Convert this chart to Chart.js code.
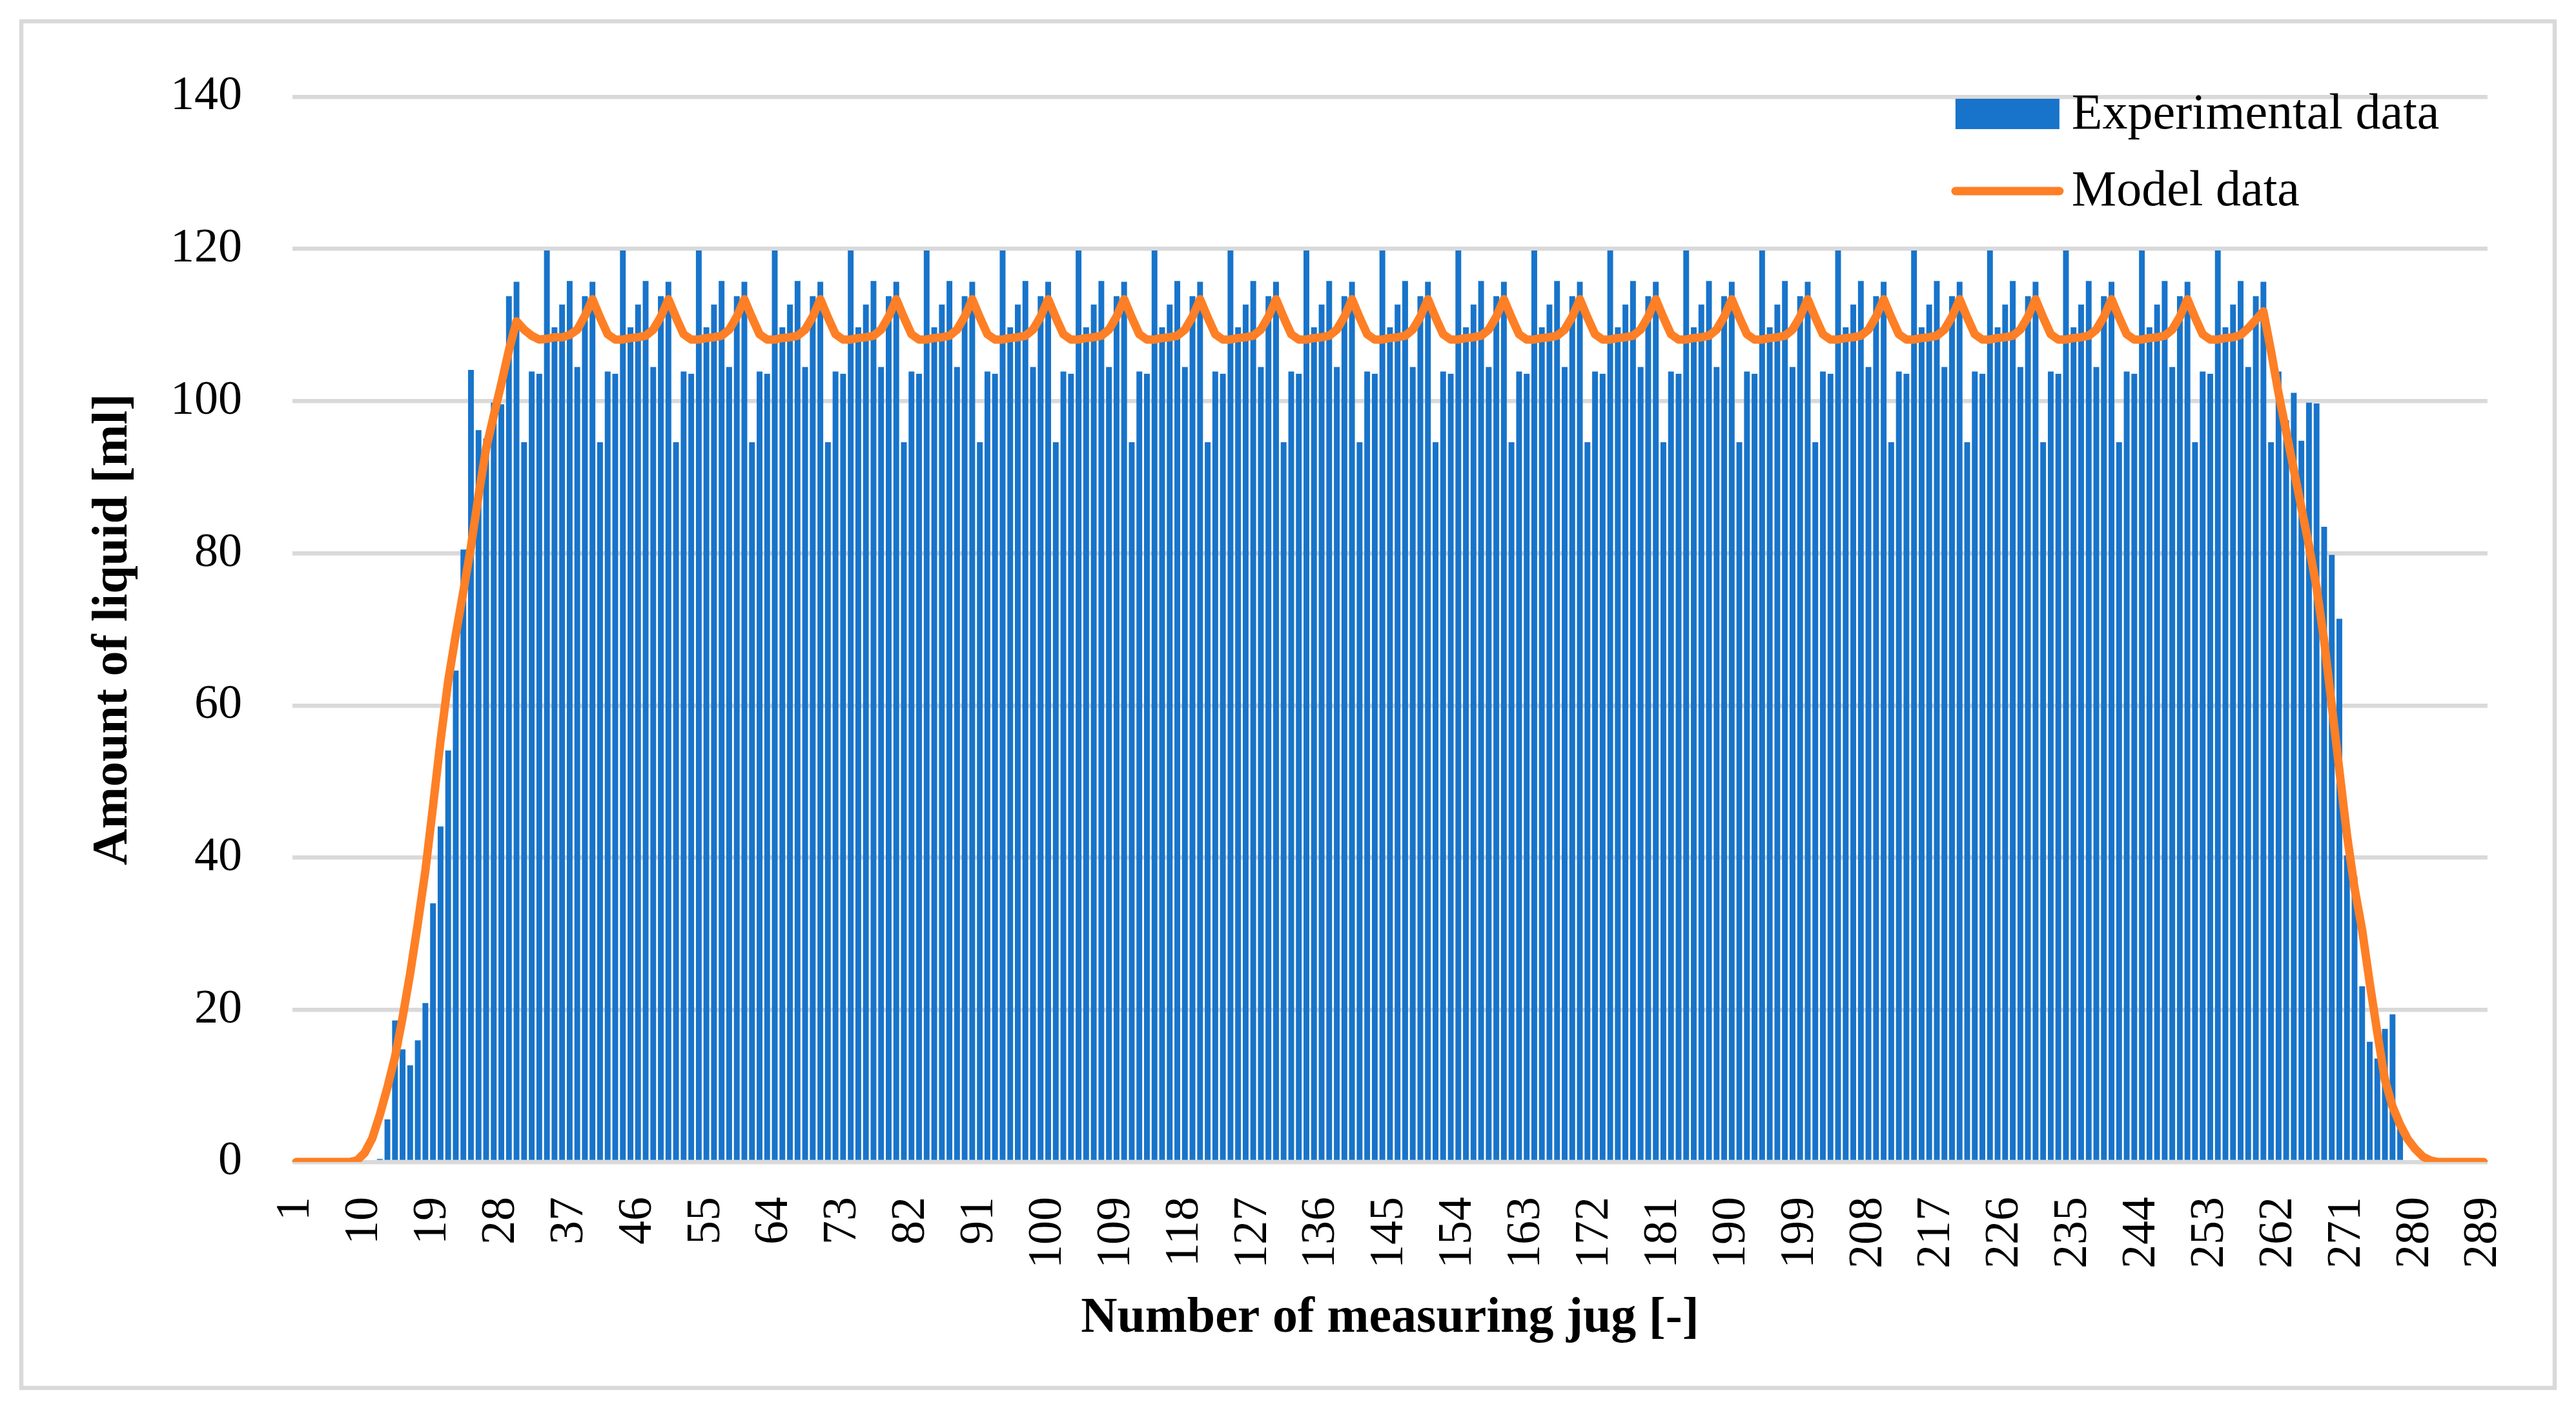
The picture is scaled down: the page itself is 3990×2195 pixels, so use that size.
<!DOCTYPE html>
<html lang="en">
<head>
<meta charset="UTF-8">
<title>Amount of liquid per measuring jug</title>
<script src="https://cdn.jsdelivr.net/npm/chart.js@4"></script>
<style>
  html, body { margin: 0; padding: 0; background: #fff; }
  canvas { display: block; }
</style>
</head>
<body>
<canvas id="graphique" width="3990" height="2195" style="width:3990px;height:2195px"></canvas>
<script>
// categories: measuring jug number 1..289
const jugs = Array.from({length: 289}, (_, i) => i + 1);

// labels shown on the x axis
const xTickLabels = [1, 10, 19, 28, 37, 46, 55, 64, 73, 82, 91, 100, 109, 118, 127, 136, 145,
  154, 163, 172, 181, 190, 199, 208, 217, 226, 235, 244, 253, 262, 271, 280, 289];

// Experimental data [ml], one row = 10 jugs (1-10, 11-20, ...)
const experimentalData = [
  0, 0, 0, 0, 0, 0, 0, 0, 0, 0,
  0, 0.4, 5.6, 18.6, 14.8, 12.7, 16.0, 20.9, 34.0, 44.1,
  54.1, 64.6, 80.5, 104.1, 96.2, 95.1, 99.8, 99.6, 113.8, 115.7,
  94.6, 103.9, 103.6, 119.8, 109.7, 112.7, 115.8, 104.5, 113.8, 115.7,
  94.6, 103.9, 103.6, 119.8, 109.7, 112.7, 115.8, 104.5, 113.8, 115.7,
  94.6, 103.9, 103.6, 119.8, 109.7, 112.7, 115.8, 104.5, 113.8, 115.7,
  94.6, 103.9, 103.6, 119.8, 109.7, 112.7, 115.8, 104.5, 113.8, 115.7,
  94.6, 103.9, 103.6, 119.8, 109.7, 112.7, 115.8, 104.5, 113.8, 115.7,
  94.6, 103.9, 103.6, 119.8, 109.7, 112.7, 115.8, 104.5, 113.8, 115.7,
  94.6, 103.9, 103.6, 119.8, 109.7, 112.7, 115.8, 104.5, 113.8, 115.7,
  94.6, 103.9, 103.6, 119.8, 109.7, 112.7, 115.8, 104.5, 113.8, 115.7,
  94.6, 103.9, 103.6, 119.8, 109.7, 112.7, 115.8, 104.5, 113.8, 115.7,
  94.6, 103.9, 103.6, 119.8, 109.7, 112.7, 115.8, 104.5, 113.8, 115.7,
  94.6, 103.9, 103.6, 119.8, 109.7, 112.7, 115.8, 104.5, 113.8, 115.7,
  94.6, 103.9, 103.6, 119.8, 109.7, 112.7, 115.8, 104.5, 113.8, 115.7,
  94.6, 103.9, 103.6, 119.8, 109.7, 112.7, 115.8, 104.5, 113.8, 115.7,
  94.6, 103.9, 103.6, 119.8, 109.7, 112.7, 115.8, 104.5, 113.8, 115.7,
  94.6, 103.9, 103.6, 119.8, 109.7, 112.7, 115.8, 104.5, 113.8, 115.7,
  94.6, 103.9, 103.6, 119.8, 109.7, 112.7, 115.8, 104.5, 113.8, 115.7,
  94.6, 103.9, 103.6, 119.8, 109.7, 112.7, 115.8, 104.5, 113.8, 115.7,
  94.6, 103.9, 103.6, 119.8, 109.7, 112.7, 115.8, 104.5, 113.8, 115.7,
  94.6, 103.9, 103.6, 119.8, 109.7, 112.7, 115.8, 104.5, 113.8, 115.7,
  94.6, 103.9, 103.6, 119.8, 109.7, 112.7, 115.8, 104.5, 113.8, 115.7,
  94.6, 103.9, 103.6, 119.8, 109.7, 112.7, 115.8, 104.5, 113.8, 115.7,
  94.6, 103.9, 103.6, 119.8, 109.7, 112.7, 115.8, 104.5, 113.8, 115.7,
  94.6, 103.9, 103.6, 119.8, 109.7, 112.7, 115.8, 104.5, 113.8, 115.7,
  94.6, 103.9, 97.5, 101.1, 94.8, 99.8, 99.7, 83.5, 79.8, 71.4,
  40.3, 37.5, 23.1, 15.8, 13.6, 17.5, 19.4, 5.2, 0, 0,
  0, 0, 0, 0, 0, 0, 0, 0, 0
];

// Model data [ml], same row layout
const modelData = [
  0, 0, 0, 0, 0, 0, 0, 0, 0.2, 1.2,
  3.1, 6.2, 9.8, 13.8, 19.0, 24.8, 31.3, 38.3, 46.7, 55.4,
  63.2, 69.3, 75.0, 80.9, 87.6, 93.8, 98.1, 102.3, 106.7, 110.5,
  109.4, 108.6, 108.1, 108.2, 108.4, 108.4, 108.7, 109.4, 111.2, 113.4,
  111.0, 108.8, 108.1, 108.1, 108.3, 108.4, 108.6, 109.4, 111.1, 113.4,
  111.0, 108.8, 108.1, 108.1, 108.3, 108.4, 108.6, 109.4, 111.1, 113.4,
  111.0, 108.8, 108.1, 108.1, 108.3, 108.4, 108.6, 109.4, 111.1, 113.4,
  111.0, 108.8, 108.1, 108.1, 108.3, 108.4, 108.6, 109.4, 111.1, 113.4,
  111.0, 108.8, 108.1, 108.1, 108.3, 108.4, 108.6, 109.4, 111.1, 113.4,
  111.0, 108.8, 108.1, 108.1, 108.3, 108.4, 108.6, 109.4, 111.1, 113.4,
  111.0, 108.8, 108.1, 108.1, 108.3, 108.4, 108.6, 109.4, 111.1, 113.4,
  111.0, 108.8, 108.1, 108.1, 108.3, 108.4, 108.6, 109.4, 111.1, 113.4,
  111.0, 108.8, 108.1, 108.1, 108.3, 108.4, 108.6, 109.4, 111.1, 113.4,
  111.0, 108.8, 108.1, 108.1, 108.3, 108.4, 108.6, 109.4, 111.1, 113.4,
  111.0, 108.8, 108.1, 108.1, 108.3, 108.4, 108.6, 109.4, 111.1, 113.4,
  111.0, 108.8, 108.1, 108.1, 108.3, 108.4, 108.6, 109.4, 111.1, 113.4,
  111.0, 108.8, 108.1, 108.1, 108.3, 108.4, 108.6, 109.4, 111.1, 113.4,
  111.0, 108.8, 108.1, 108.1, 108.3, 108.4, 108.6, 109.4, 111.1, 113.4,
  111.0, 108.8, 108.1, 108.1, 108.3, 108.4, 108.6, 109.4, 111.1, 113.4,
  111.0, 108.8, 108.1, 108.1, 108.3, 108.4, 108.6, 109.4, 111.1, 113.4,
  111.0, 108.8, 108.1, 108.1, 108.3, 108.4, 108.6, 109.4, 111.1, 113.4,
  111.0, 108.8, 108.1, 108.1, 108.3, 108.4, 108.6, 109.4, 111.1, 113.4,
  111.0, 108.8, 108.1, 108.1, 108.3, 108.4, 108.6, 109.4, 111.1, 113.4,
  111.0, 108.8, 108.1, 108.1, 108.3, 108.4, 108.6, 109.4, 111.1, 113.4,
  111.0, 108.8, 108.1, 108.1, 108.3, 108.4, 108.6, 109.4, 111.1, 113.4,
  111.0, 108.8, 108.1, 108.1, 108.3, 108.4, 108.7, 109.6, 110.7, 111.8,
  106.6, 101.0, 96.0, 91.0, 86.0, 81.0, 75.5, 68.5, 60.0, 51.5,
  43.0, 36.0, 30.5, 23.5, 17.0, 10.8, 7.3, 4.9, 3.0, 1.7,
  0.7, 0.2, 0, 0, 0, 0, 0, 0, 0
];

const seriesNames = ['Experimental data', 'Model data'];

const BLUE = '#1874CA';
const ORANGE = '#FE7F25';
const GRID = '#D9D9D9';
const SERIF = "'Liberation Serif', 'Times New Roman', serif";

Chart.defaults.font.family = SERIF;
Chart.defaults.color = '#000';

// white background + light grey frame around the whole figure
const cadre = {
  id: 'cadre',
  beforeDraw(chart) {
    const ctx = chart.ctx;
    ctx.save();
    ctx.fillStyle = '#fff';
    ctx.fillRect(0, 0, chart.width, chart.height);
    ctx.strokeStyle = GRID;
    ctx.lineWidth = 6.5;
    ctx.strokeRect(33, 33, 3924, 2117);
    ctx.restore();
  }
};

// legend drawn inside the plot area, top right
const legende = {
  id: 'legende',
  afterDraw(chart) {
    const ctx = chart.ctx;
    const a = chart.chartArea;
    const x0 = a.right - 824;
    ctx.save();
    ctx.fillStyle = BLUE;
    ctx.fillRect(x0, a.top + 3, 161, 47);
    ctx.strokeStyle = ORANGE;
    ctx.lineWidth = 13;
    ctx.lineCap = 'round';
    ctx.beginPath();
    ctx.moveTo(x0, a.top + 146);
    ctx.lineTo(x0 + 161, a.top + 146);
    ctx.stroke();
    ctx.fillStyle = '#000';
    ctx.font = '78px ' + SERIF;
    ctx.textBaseline = 'alphabetic';
    ctx.textAlign = 'left';
    ctx.fillText(seriesNames[0], x0 + 180, a.top + 49);
    ctx.fillText(seriesNames[1], x0 + 180, a.top + 168);
    ctx.restore();
  }
};

new Chart(document.getElementById('graphique').getContext('2d'), {
  type: 'bar',
  data: {
    labels: jugs,
    datasets: [
      {
        type: 'line',
        label: seriesNames[1],
        data: modelData,
        borderColor: ORANGE,
        borderWidth: 13,
        borderCapStyle: 'round',
        borderJoinStyle: 'round',
        pointRadius: 0,
        tension: 0,
        fill: false,
        order: 1
      },
      {
        type: 'bar',
        label: seriesNames[0],
        data: experimentalData,
        backgroundColor: BLUE,
        borderWidth: 0,
        barPercentage: 0.76,
        categoryPercentage: 1.0,
        order: 2
      }
    ]
  },
  options: {
    responsive: false,
    animation: false,
    devicePixelRatio: 1,
    layout: { padding: { left: 30, top: 150, right: 126, bottom: 45 } },
    plugins: {
      legend: { display: false },
      tooltip: { enabled: false }
    },
    scales: {
      x: {
        type: 'category',
        offset: true,
        grid: { display: false, drawTicks: false },
        border: { display: false },
        ticks: {
          autoSkip: false,
          minRotation: 90,
          maxRotation: 90,
          padding: 54,
          font: { size: 74 },
          color: '#000',
          callback: function (value, index) {
            const n = jugs[index];
            return xTickLabels.includes(n) ? String(n) : '';
          }
        },
        title: {
          display: true,
          text: 'Number of measuring jug [-]',
          font: { size: 78, weight: 'bold' },
          color: '#000',
          padding: { top: 0, bottom: 60 }
        },
        afterFit: function (scale) { scale.height = 350; }
      },
      y: {
        min: 0,
        max: 140,
        ticks: {
          stepSize: 20,
          padding: 78,
          font: { size: 74 },
          color: '#000'
        },
        grid: { color: GRID, lineWidth: 6.5, drawTicks: false },
        border: { display: false },
        title: {
          display: true,
          text: 'Amount of liquid [ml]',
          font: { size: 78, weight: 'bold' },
          color: '#000',
          padding: { top: 99, bottom: 0 }
        },
        afterFit: function (scale) { scale.width = 423; }
      }
    }
  },
  plugins: [cadre, legende]
});
</script>
</body>
</html>
